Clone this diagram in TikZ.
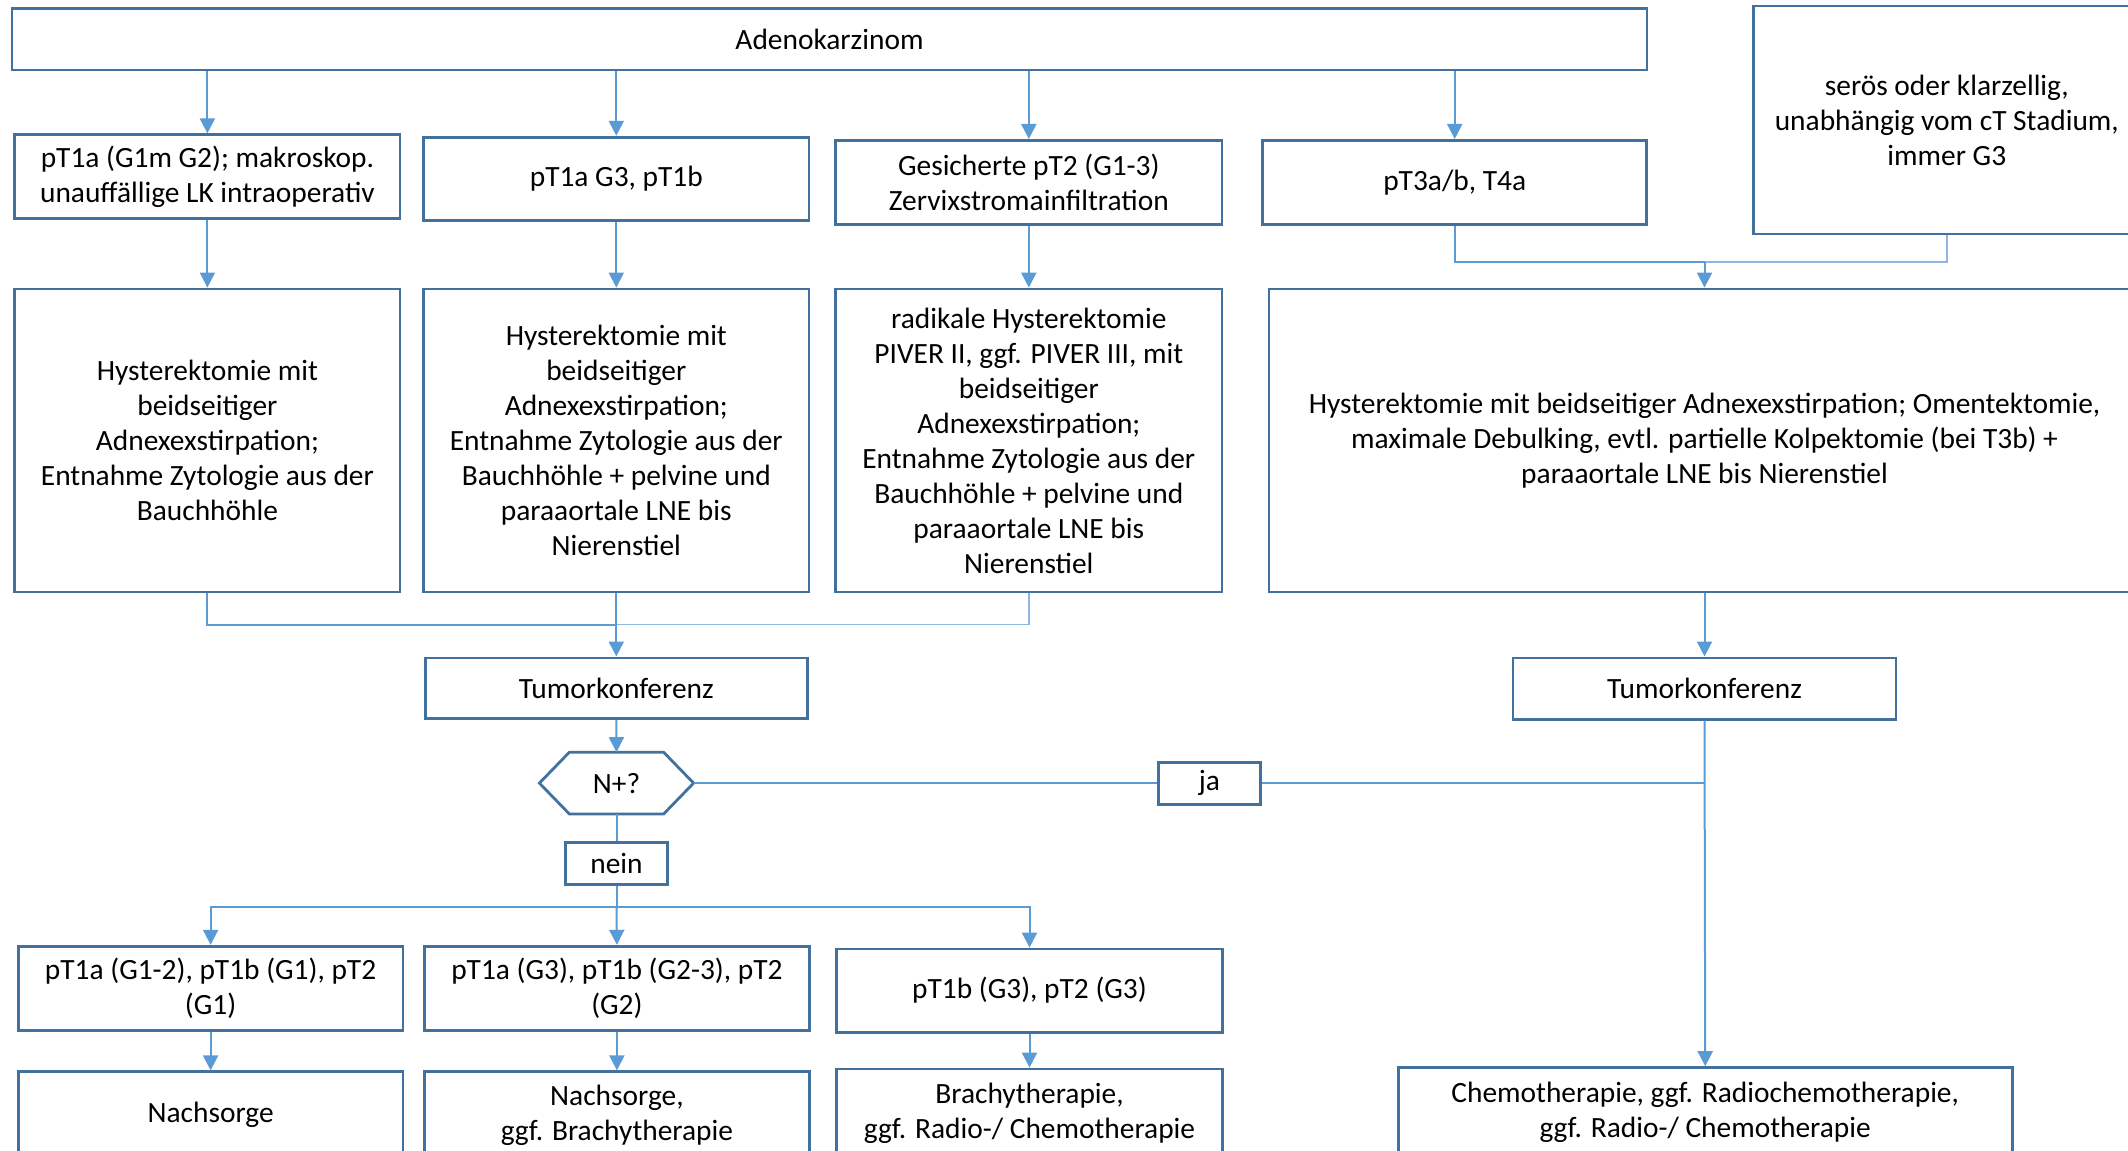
\documentclass[tikz,border=0pt]{standalone}
\usepackage{fontspec}
\setmainfont{Carlito}
\usetikzlibrary{arrows.meta,calc}
\definecolor{bordc}{HTML}{41719C}
\definecolor{connc}{HTML}{5B9BD5}
\definecolor{connl}{HTML}{8DB6E2}
\begin{document}
\begin{tikzpicture}[x=0.5pt,y=-0.5pt,
  bx/.style={draw=bordc,line width=1.4pt,fill=white,align=center,inner sep=2pt,
    font=\fontsize{14.7pt}{17.5pt}\selectfont},
  ln/.style={draw=connc,line width=1pt},
  lnl/.style={draw=connl,line width=0.8pt},
  arr/.style={ln,-{Triangle[width=7.5pt,length=7.5pt]}}]
\path[use as bounding box] (0,0) rectangle (2128,1150);
\clip (0,0) rectangle (2128,1150);
% top
\node[bx,minimum width=817.5pt,minimum height=30.6pt] (adeno) at (829.5,39.4) {Adenokarzinom};
\node[bx,minimum width=192.6pt,minimum height=42pt] (b1) at (207.4,176.8) {pT1a (G1m G2); makroskop.\\unauffällige LK intraoperativ};
\node[bx,minimum width=192.6pt,minimum height=41.5pt] (b2) at (616.3,178.7) {pT1a G3, pT1b};
\node[bx,minimum width=193.2pt,minimum height=41.9pt] (b3) at (1028.8,182.3) {Gesicherte pT2 (G1-3)\\Zervixstromainfiltration};
\node[bx,minimum width=192.1pt,minimum height=42.1pt] (b4) at (1454.7,182.5) {pT3a/b, T4a};
\node[bx,minimum width=193.2pt,minimum height=114pt] (seros) at (1946.8,120) {serös oder klarzellig,\\unabhängig vom cT Stadium,\\immer G3};
% second row
\node[bx,minimum width=192.6pt,minimum height=151.5pt] (h1) at (207.4,440.5) {Hysterektomie mit\\beidseitiger\\Adnexexstirpation;\\Entnahme Zytologie aus der\\Bauchhöhle};
\node[bx,minimum width=192.6pt,minimum height=151.5pt] (h2) at (616.3,440.5) {Hysterektomie mit\\beidseitiger\\Adnexexstirpation;\\Entnahme Zytologie aus der\\Bauchhöhle + pelvine und\\paraaortale LNE bis\\Nierenstiel};
\node[bx,minimum width=193.2pt,minimum height=151.5pt] (h3) at (1028.8,440.5) {radikale Hysterektomie\\PIVER II, ggf. PIVER III, mit\\beidseitiger\\Adnexexstirpation;\\Entnahme Zytologie aus der\\Bauchhöhle + pelvine und\\paraaortale LNE bis\\Nierenstiel};
\node[bx,minimum width=435.5pt,minimum height=151.5pt] (h4) at (1704.5,440.5) {Hysterektomie mit beidseitiger Adnexexstirpation; Omentektomie,\\maximale Debulking, evtl. partielle Kolpektomie (bei T3b) +\\paraaortale LNE bis Nierenstiel};
% tumor conferences
\node[bx,minimum width=191.2pt,minimum height=30.4pt] (tk1) at (616.3,688.3) {Tumorkonferenz};
\node[bx,minimum width=191.5pt,minimum height=30.7pt] (tk2) at (1704.5,688.6) {Tumorkonferenz};
% decision
\node[font=\fontsize{14.7pt}{17.5pt}\selectfont,minimum width=76.7pt,minimum height=30.5pt,inner sep=0pt] (hex) at (616.5,783.1) {N+?};
\draw[draw=bordc,line width=1.4pt,line join=miter]
  (hex.west) -- ($(hex.north west)+(30,0)$) -- ($(hex.north east)+(-30,0)$) -- (hex.east)
  -- ($(hex.south east)+(-30,0)$) -- ($(hex.south west)+(30,0)$) -- cycle;
\node[bx,minimum width=51pt,minimum height=21pt] (ja) at (1209.4,783.1) {ja};
\node[bx,minimum width=51pt,minimum height=21.2pt] (nein) at (616.5,863.6) {nein};
% third row
\node[bx,minimum width=192.4pt,minimum height=42.1pt] (c1) at (210.6,988.3) {pT1a (G1-2), pT1b (G1), pT2\\(G1)};
\node[bx,minimum width=192.4pt,minimum height=42.1pt] (c2) at (616.9,988.3) {pT1a (G3), pT1b (G2-3), pT2\\(G2)};
\node[bx,minimum width=192.8pt,minimum height=41.6pt] (c3) at (1029.5,990.6) {pT1b (G3), pT2 (G3)};
% fourth row
\node[bx,minimum width=192.4pt,minimum height=43.1pt] (d1) at (210.6,1114.9) {Nachsorge};
\node[bx,minimum width=192.4pt,minimum height=43.1pt] (d2) at (616.9,1114.9) {Nachsorge,\\ggf. Brachytherapie};
\node[bx,minimum width=192.8pt,minimum height=44.5pt] (d3) at (1029.5,1113.5) {Brachytherapie,\\ggf. Radio-/ Chemotherapie};
\node[bx,minimum width=306.9pt,minimum height=45.2pt] (chemo) at (1705.2,1112.8) {Chemotherapie, ggf. Radiochemotherapie,\\ggf. Radio-/ Chemotherapie};
% connectors top
\draw[arr] (adeno.south -| b1.north) -- (b1.north);
\draw[arr] (adeno.south -| b2.north) -- (b2.north);
\draw[arr] (adeno.south -| b3.north) -- (b3.north);
\draw[arr] (adeno.south -| b4.north) -- (b4.north);
\draw[arr] (b1.south) -- (h1.north);
\draw[arr] (b2.south) -- (h2.north);
\draw[arr] (b3.south) -- (h3.north);
\coordinate (m2) at (1704.5,261.8);
\draw[ln] (b4.south) |- (m2);
\draw[lnl] (seros.south) |- (m2);
\draw[arr] (m2) -- (h4.north);
% merge left
\coordinate (m1) at (616.3,624.6);
\draw[ln] (h1.south) |- (m1);
\draw[lnl] (h3.south) |- (m1);
\draw[arr] (h2.south) -- (tk1.north);
\draw[arr] (tk1.south) -- (hex.north);
\draw[ln] (hex.east) -- (ja.west);
\draw[ln] (ja.east) -- (ja.east -| tk2.south);
\draw[arr] (h4.south) -- (tk2.north);
\draw[arr] (tk2.south) -- (chemo.north);
\draw[ln] (hex.south) -- (nein.north);
\coordinate (br) at (616.5,907.3);
\draw[ln] (nein.south) -- (br);
\draw[arr] (br) -| (c1.north);
\draw[arr] (br) -| (c3.north);
\draw[arr] (br) -- (c2.north);
\draw[arr] (c1.south) -- (d1.north);
\draw[arr] (c2.south) -- (d2.north);
\draw[arr] (c3.south) -- (d3.north);
\end{tikzpicture}
\end{document}
